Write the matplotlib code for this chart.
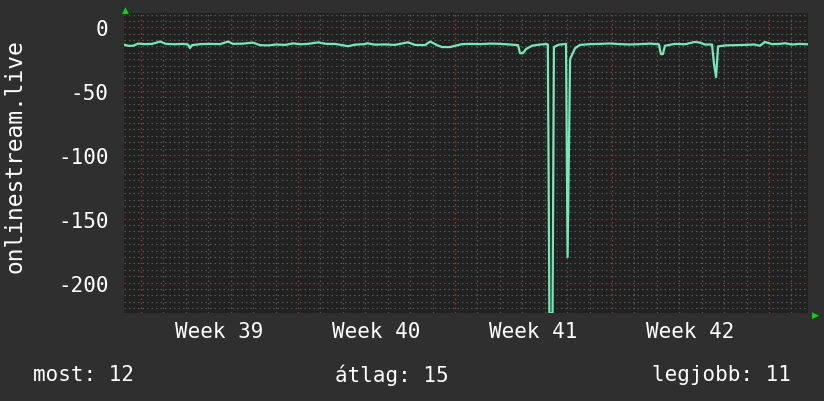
import matplotlib
matplotlib.use("Agg")
import matplotlib.pyplot as plt
import numpy as np

# time in days since the start of week 39, value of onlinestream.live
days = [-0.76, -0.58, -0.36, -0.13, 0.18, 0.49, 0.85, 1.11, 1.52, 1.87,
        2.10, 2.18, 2.27, 2.63, 3.08, 3.52, 3.88, 4.10, 4.55, 4.99,
        5.31, 5.66, 6.02, 6.42, 6.78, 7.09, 7.45, 7.89, 8.25, 8.65,
        9.23, 9.54, 9.99, 10.08, 10.43, 10.88, 11.32, 11.90, 12.22, 12.66,
        12.89, 13.20, 13.42, 13.78, 14.00, 14.31, 14.67, 15.11, 15.56, 16.01,
        16.45, 16.81, 16.90, 17.03, 17.17, 17.43, 17.79, 18.06, 18.14, 18.21,
        18.35, 18.41, 18.59, 18.95, 19.02, 19.13, 19.35, 19.57, 20.02, 20.46,
        20.91, 21.36, 21.80, 22.25, 22.69, 23.09, 23.18, 23.27, 23.36, 23.80,
        24.25, 24.69, 24.92, 25.14, 25.46, 25.55, 25.64, 25.73, 26.04, 26.48,
        26.93, 27.37, 27.59, 27.82, 28.13, 28.49, 28.71, 29.02, 29.38, 29.69]
values = [-13.5, -14.5, -14.5, -12.8, -13.2, -13.0, -11.2, -13.0, -13.3, -13.0,
          -13.5, -16.3, -14.0, -13.2, -13.0, -13.2, -11.2, -13.0, -12.8, -12.0,
          -14.0, -14.2, -13.5, -13.8, -12.6, -13.3, -13.0, -11.8, -13.0, -13.0,
          -14.8, -13.6, -13.2, -12.5, -13.6, -13.4, -13.8, -11.8, -13.8, -14.0,
          -11.2, -14.0, -15.5, -15.5, -14.5, -13.2, -13.0, -13.2, -12.8, -13.0,
          -13.5, -14.0, -20.3, -20.3, -17.0, -14.5, -13.5, -13.2, -13.5, -224.0,
          -224.0, -15.5, -13.8, -13.0, -180.0, -25.0, -16.5, -13.8, -13.2, -13.0,
          -12.7, -13.2, -13.5, -13.2, -12.8, -13.3, -21.0, -21.0, -14.5, -13.0,
          -13.3, -11.5, -12.0, -13.5, -13.5, -29.0, -39.0, -15.0, -14.2, -14.0,
          -13.8, -13.5, -14.5, -11.5, -13.2, -13.0, -12.5, -13.5, -13.0, -13.3]

week_pos = [3.5, 10.5, 17.5, 24.5]
week_labels = ["Week 39", "Week 40", "Week 41", "Week 42"]
y_ticks = [0, -50, -100, -150, -200]
footer = ["most: 12", "átlag: 15", "legjobb: 11"]

FONT = "DejaVu Sans Mono"
BG = "#2f2f2f"
PLOT_BG = "#212121"
LINE = "#72ecb6"
MINOR = "#575757"
MAJOR = "#8e3c3c"

fig = plt.figure(figsize=(8.24, 4.02), dpi=100, facecolor=BG)
ax = fig.add_axes([124 / 824, 88 / 402, 684 / 824, 300 / 402])
ax.set_facecolor(PLOT_BG)
x0, x1 = -0.76, 29.74
y0, y1 = -223.9, 11.2
ax.set_xlim(x0, x1)
ax.set_ylim(y0, y1)

# grid, rrdtool style (minor every 5 / every day, major every 50 / every week)
dots = (0, (1.2, 2.4))
for v in np.arange(10, y0, -5):
    major = v % 50 == 0
    ax.axhline(v, color=MAJOR if major else MINOR, lw=0.9,
               linestyle=dots, zorder=2 if major else 1)
for d in range(0, 30):
    major = d % 7 == 0
    ax.axvline(d, color=MAJOR if major else MINOR, lw=0.9,
               linestyle=dots, zorder=2 if major else 1)

ax.plot(days, values, color=LINE, lw=1.6, zorder=3)

for s in ax.spines.values():
    s.set_visible(False)
ax.set_xticks(week_pos)
ax.set_xticklabels(week_labels, fontfamily=FONT, fontsize=15, color="white")
ax.set_yticks(y_ticks)
ax.set_yticklabels([str(t) for t in y_ticks], fontfamily=FONT, fontsize=15,
                   color="white")
ax.tick_params(axis="x", length=0, pad=6)
ax.tick_params(axis="y", length=0, pad=11)
fig.text(15 / 824, 1 - 156 / 402, "onlinestream.live", fontfamily=FONT,
         fontsize=16.5, color="white", rotation=90, ha="center", va="center")

# green arrows at the axis ends
fig.text(125 / 824, 1 - 10 / 402, "\u25B2", color="#00dd00", fontsize=6.5,
         ha="center", va="center")
fig.text(815 / 824, 1 - 315 / 402, "\u25B6", color="#00dd00", fontsize=6.5,
         ha="center", va="center")

fig.text(33 / 824, 1 - 375 / 402, footer[0], fontfamily=FONT, fontsize=15,
         color="white", ha="left", va="center")
fig.text(335 / 824, 1 - 375 / 402, footer[1], fontfamily=FONT, fontsize=15,
         color="white", ha="left", va="center")
fig.text(791 / 824, 1 - 375 / 402, footer[2], fontfamily=FONT, fontsize=15,
         color="white", ha="right", va="center")

fig.savefig("out.png", dpi=100, facecolor=BG)
